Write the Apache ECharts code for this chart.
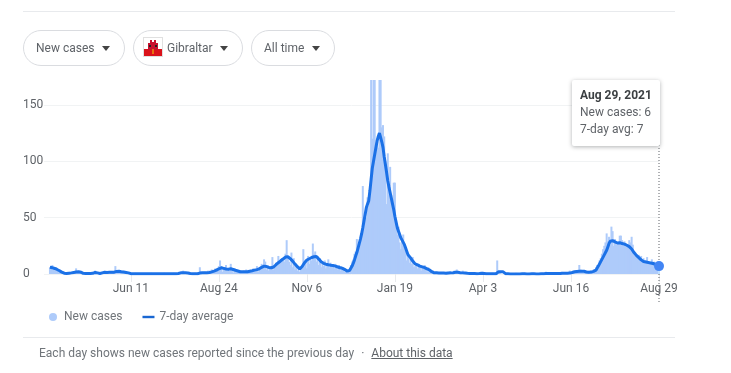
<!DOCTYPE html>
<html>
<head>
<meta charset="utf-8">
<title>Gibraltar new cases</title>
<script src="https://cdn.jsdelivr.net/npm/echarts@6/dist/echarts.min.js"></script>
<style>
  html, body { margin: 0; padding: 0; background: #fff; font-family: Roboto, sans-serif; }
  #page { position: relative; width: 731px; height: 373px; overflow: hidden; }
  #chart { position: absolute; left: 0; top: 0; width: 731px; height: 373px; }
  .rule { position: absolute; left: 23px; width: 652px; height: 1px; background: #e8eaed; }
  .chip { position: absolute; top: 30px; height: 34px; box-sizing: content-box; border: 1px solid #dadce0; border-radius: 18px;
    font-size: 12px; line-height: 34px; color: #5f6368; white-space: nowrap; background: #fff; }
  .chip span { position: absolute; top: 0; }
  .chip i { position: absolute; top: 15px; width: 0; height: 0; border-left: 4px solid transparent; border-right: 4px solid transparent; border-top: 5px solid #444; }
  .chip svg { position: absolute; left: 9px; top: 6px; }
  #note { position: absolute; left: 39px; top: 346px; font-size: 12px; line-height: 15px; color: #70757a; white-space: nowrap; }
  #note a { color: #5f6368; text-decoration: underline; margin-left: 7px; }
  #note b { font-weight: 400; margin-left: 7px; }
</style>
</head>
<body>
<div id="page">
  <div id="chart"></div>
  <div class="rule" style="top:11px"></div>
  <div class="chip" style="left:23px;width:100px"><span style="left:12px">New cases</span><i style="left:78px"></i></div>
  <div class="chip" style="left:133px;width:108px">
    <svg width="20" height="20" viewBox="0 0 20 20">
      <rect x="0.5" y="0.5" width="19" height="19" fill="#fff" stroke="#e0e0e0"/>
      <rect x="1" y="12" width="18" height="7" fill="#da121a"/>
      <path d="M5 13V6h2V3h2v2h2V3h2v3h2v7z" fill="#c8102e"/>
      <rect x="6" y="8" width="2" height="2" fill="#222"/><rect x="12" y="8" width="2" height="2" fill="#222"/>
      <rect x="9.5" y="12" width="1" height="5" fill="#f8d000"/>
    </svg>
    <span style="left:33px">Gibraltar</span><i style="left:86px"></i>
  </div>
  <div class="chip" style="left:251px;width:82px"><span style="left:12px">All time</span><i style="left:60px"></i></div>
  <div class="rule" style="top:337px"></div>
  <div id="note">Each day shows new cases reported since the previous day<b>·</b><a>About this data</a></div>
</div>
<script>
const startDay = '2020-03-30';
const tickDates = ['2020-06-11', '2020-08-24', '2020-11-06', '2021-01-19', '2021-04-03', '2021-06-16', '2021-08-29'];
const tickLabels = ['Jun 11', 'Aug 24', 'Nov 6', 'Jan 19', 'Apr 3', 'Jun 16', 'Aug 29'];
const yTicks = [0, 50, 100, 150];
const padDays = [null, null, null, null, null];

const newCases = [
  6, 7, 8, 5, 4, 6, 3, 2, 4, 1,
  1, 0, 1, 0, 0, 0, 1, 2, 1, 0,
  2, 1, 5, 2, 1, 3, 2, 1, 0, 0,
  0, 1, 0, 1, 0, 1, 0, 1, 3, 2,
  1, 0, 0, 1, 2, 1, 1, 2, 1, 2,
  1, 2, 2, 1, 2, 7, 2, 1, 2, 2,
  1, 3, 2, 1, 2, 1, 1, 0, 0, 0,
  0, 0, 1, 0, 0, 0, 0, 0, 0, 0,
  0, 0, 0, 0, 0, 1, 0, 0, 0, 0,
  0, 0, 0, 0, 0, 0, 1, 0, 0, 0,
  0, 0, 0, 0, 1, 0, 0, 0, 1, 2,
  1, 0, 3, 1, 1, 0, 1, 1, 0, 0,
  0, 0, 1, 0, 0, 0, 6, 1, 1, 0,
  2, 1, 0, 3, 1, 2, 4, 1, 3, 5,
  4, 3, 7, 12, 7, 2, 6, 4, 8, 3,
  5, 3, 9, 4, 1, 5, 3, 2, 2, 1,
  3, 1, 2, 3, 1, 4, 2, 1, 3, 2,
  2, 5, 3, 4, 7, 2, 6, 4, 9, 5,
  13, 11, 4, 8, 3, 7, 5, 15, 4, 8,
  10, 7, 16, 9, 13, 14, 12, 11, 18, 30,
  15, 11, 8, 19, 6, 14, 4, 9, 3, 6,
  2, 4, 6, 22, 8, 12, 5, 16, 9, 13,
  12, 27, 18, 20, 11, 16, 8, 14, 6, 9,
  7, 12, 5, 9, 13, 6, 10, 8, 7, 5,
  9, 6, 4, 8, 3, 7, 5, 4, 2, 3,
  1, 2, 4, 8, 11, 13, 18, 20, 31, 24,
  28, 31, 36, 78, 42, 55, 50, 68, 60, 72,
  190, 120, 185, 175, 108, 120, 112, 185, 190, 130,
  132, 122, 100, 62, 107, 80, 95, 70, 60, 81,
  81, 45, 35, 42, 28, 22, 31, 35, 25, 20,
  12, 18, 10, 14, 9, 15, 6, 7, 8, 5,
  9, 6, 3, 7, 5, 8, 4, 2, 6, 3,
  2, 1, 3, 1, 0, 2, 1, 1, 0, 1,
  1, 0, 1, 0, 2, 1, 2, 0, 1, 2,
  3, 1, 4, 2, 1, 0, 2, 3, 0, 1,
  0, 1, 0, 1, 1, 0, 0, 1, 0, 0,
  0, 1, 1, 0, 2, 0, 0, 1, 0, 0,
  0, 0, 1, 0, 0, 0, 12, 0, 1, 0,
  0, 0, 0, 1, 0, 0, 0, 0, 0, 0,
  0, 0, 1, 0, 0, 0, 0, 0, 0, 1,
  0, 0, 0, 1, 0, 0, 1, 0, 0, 0,
  0, 0, 1, 0, 1, 0, 0, 2, 0, 0,
  1, 0, 1, 0, 1, 0, 1, 0, 1, 0,
  2, 0, 1, 0, 1, 0, 1, 3, 1, 2,
  1, 2, 3, 2, 1, 8, 4, 2, 3, 2,
  2, 1, 3, 2, 1, 3, 2, 4, 3, 6,
  8, 7, 12, 14, 18, 22, 25, 28, 36, 29,
  33, 26, 42, 38, 25, 31, 26, 28, 27, 34,
  34, 30, 26, 29, 27, 25, 24, 30, 28, 33,
  26, 20, 19, 17, 14, 17, 13, 16, 11, 14,
  12, 10, 15, 10, 9, 9, 13, 9, 11, 8,
  9, 4, 6
];

const sevenDayAvg = [
  6, 6, 5.6, 5.4, 4.9, 4.4, 4, 3.4, 2.9, 2.3,
  1.7, 1.1, 0.7, 0.5, 0.4, 0.5, 0.7, 0.9, 1, 1.3,
  1.4, 1.6, 1.7, 1.9, 2, 2, 1.6, 1, 0.6, 0.5,
  0.4, 0.4, 0.5, 0.5, 0.5, 0.5, 0.6, 0.9, 1.4, 1.4,
  1, 0.6, 0.5, 0.7, 1, 1.3, 1.5, 1.4, 1.4, 1.5,
  1.5, 1.4, 1.6, 1.5, 1.6, 1.9, 2.3, 2.6, 2.4, 2.3,
  2, 1.9, 1.7, 1.6, 1.4, 1.3, 1, 0.6, 0.3, 0.2,
  0.2, 0.2, 0.3, 0.2, 0.2, 0.2, 0.2, 0.2, 0.2, 0.2,
  0.2, 0.2, 0.2, 0.2, 0.2, 0.3, 0.2, 0.2, 0.2, 0.2,
  0.2, 0.2, 0.2, 0.2, 0.2, 0.2, 0.3, 0.2, 0.2, 0.2,
  0.2, 0.2, 0.2, 0.2, 0.2, 0.2, 0.2, 0.3, 0.5, 0.7,
  1, 1, 1.1, 1.1, 1, 1, 0.9, 0.7, 0.5, 0.4,
  0.3, 0.2, 0.2, 0.2, 0.2, 0.1, 0.8, 1, 1.1, 1.1,
  1.2, 1.2, 1.2, 1.3, 1.3, 1.6, 1.9, 2.2, 2.6, 3,
  3.4, 3.9, 4.6, 5.1, 5.5, 5.4, 5, 4.7, 4.5, 4.5,
  4.3, 4.4, 4.6, 4.5, 4, 3.7, 3.3, 3, 2.7, 2.3,
  2, 2, 1.9, 2, 2, 2, 2, 2.2, 2.5, 2.7,
  2.9, 3, 3.4, 3.7, 3.9, 4, 4.6, 5.2, 5.9, 6.5,
  7, 7, 6.6, 6.2, 5.8, 5.5, 5.5, 5.5, 6.2, 7.1,
  8.2, 9.3, 10, 10.9, 11.7, 12.5, 13.3, 14.2, 15, 15.5,
  15.3, 14.7, 13.6, 12.5, 11.4, 10, 8.8, 7.6, 6.5, 5.5,
  4.5, 5.2, 6.6, 8.3, 10, 11.2, 12.4, 13, 13.5, 14,
  14.6, 15, 15.3, 15.5, 15.5, 14.7, 13.2, 11.5, 10.8, 10.1,
  9.5, 9, 8.7, 8.4, 8.2, 8, 7.8, 7.7, 7.5, 7.3,
  7, 6.6, 6.2, 5.9, 5.5, 5.2, 5, 4.5, 3.9, 3.3,
  2.5, 2.4, 3.3, 5, 7, 9.5, 12.5, 16, 19, 23,
  27, 31, 35.5, 41, 47, 53, 59, 62, 65, 74,
  84, 94, 100, 106, 112, 118, 122, 125, 121, 117,
  112, 104, 97, 90, 82.5, 77, 72, 67, 62, 57,
  51, 46, 41, 38, 35, 32, 30, 29, 26, 23,
  20, 17, 15.5, 14.5, 13, 11.5, 10, 9, 8.5, 8,
  7.5, 7, 6.7, 6.3, 6, 5.6, 5, 4.5, 4.2, 3.7,
  3, 2, 1.2, 1.1, 1, 1, 0.9, 0.9, 0.8, 0.8,
  0.8, 0.8, 0.7, 0.7, 0.8, 0.9, 1, 1, 1.1, 1.2,
  1.4, 1.5, 1.6, 1.5, 1.4, 1.2, 1, 1, 0.9, 0.8,
  0.7, 0.6, 0.6, 0.5, 0.5, 0.4, 0.4, 0.4, 0.3, 0.3,
  0.3, 0.4, 0.5, 0.6, 0.6, 0.5, 0.4, 0.3, 0.3, 0.2,
  0.2, 0.2, 0.2, 0.2, 0.2, 0.2, 1.8, 1.9, 1.9, 1.9,
  1.9, 1.9, 1.9, 0.3, 0.2, 0.2, 0.1, 0.1, 0.1, 0.1,
  0.1, 0.1, 0.1, 0.1, 0.1, 0.1, 0.2, 0.2, 0.2, 0.2,
  0.2, 0.1, 0.1, 0.1, 0.1, 0.2, 0.2, 0.2, 0.2, 0.1,
  0.1, 0.1, 0.2, 0.2, 0.3, 0.3, 0.3, 0.4, 0.4, 0.4,
  0.4, 0.5, 0.5, 0.5, 0.5, 0.4, 0.4, 0.4, 0.5, 0.5,
  0.6, 0.6, 0.7, 0.7, 0.7, 0.7, 0.8, 0.8, 1, 1.3,
  1.8, 2, 2.1, 2.3, 2.5, 2.5, 2.4, 2.5, 2.6, 2.4,
  2.1, 1.8, 1.6, 1.5, 1.5, 1.7, 2, 2.3, 2.7, 3.4,
  5, 7, 8.7, 11, 13, 15, 17, 19, 21, 24,
  27, 29, 30, 29.5, 29, 28.5, 28, 27.5, 27.6, 27.8,
  27.2, 27, 26.8, 26.5, 26, 25.5, 25, 24.3, 23.5, 22.2,
  20.5, 19, 17.5, 16.5, 15.5, 14.5, 13.5, 12.5, 11.5, 11,
  10.8, 10.6, 10.4, 10.2, 10, 9.8, 9.6, 9.3, 8.9, 8.5,
  8, 7.5, 7
];

const casesData = padDays.concat(newCases);
const avgData = padDays.concat(sevenDayAvg);

// one category per day, ISO so the two years don't collide on the axis
const days = casesData.map((_, i) => {
  const d = new Date(startDay + 'T12:00:00Z');
  d.setUTCDate(d.getUTCDate() + i);
  return d.toISOString().slice(0, 10);
});
const lastIndex = days.length - 1;
const isTick = (index, value) => tickDates.includes(value);

const chart = echarts.init(document.getElementById('chart'));

chart.setOption({
  animation: false,
  textStyle: { fontFamily: 'Roboto, sans-serif' },
  grid: { left: 44, right: 72, top: 80, bottom: 99 },
  legend: {
    left: 49,
    top: 311,
    padding: 0,
    itemWidth: 12,
    itemHeight: 8,
    itemGap: 20,
    selectedMode: false,
    textStyle: { color: '#70757a', fontSize: 12, fontFamily: 'Roboto, sans-serif' },
    data: [
      { name: 'New cases', icon: 'circle' },
      { name: '7-day average', icon: 'path://M0 0h12v2.4H0z' },
    ],
  },
  tooltip: {
    trigger: 'axis',
    axisPointer: { type: 'none' },
    alwaysShowContent: true,
    transitionDuration: 0,
    position: [572, 80],
    padding: [6, 8, 8, 8],
    backgroundColor: '#fff',
    borderWidth: 0,
    extraCssText: 'box-shadow:0 1px 4px rgba(60,64,67,.4);border-radius:2px;width:72px;',
    formatter: () =>
      '<div style="font:700 12px/18px Roboto,sans-serif;color:#3c4043">Aug 29, 2021</div>' +
      '<div style="font:12px/17px Roboto,sans-serif;color:#5f6368">New cases: ' + newCases[newCases.length - 1] + '</div>' +
      '<div style="font:12px/17px Roboto,sans-serif;color:#5f6368">7-day avg: ' + sevenDayAvg[sevenDayAvg.length - 1] + '</div>',
  },
  xAxis: {
    type: 'category',
    data: days,
    boundaryGap: false,
    axisLine: { show: false },
    axisTick: { length: 8, interval: isTick, lineStyle: { color: '#e8eaed' } },
    axisLabel: {
      interval: isTick,
      margin: 9,
      hideOverlap: false,
      color: '#5f6368',
      fontSize: 12,
      formatter: (value) => tickLabels[tickDates.indexOf(value)],
    },
  },
  yAxis: {
    type: 'value',
    min: 0,
    max: 172,
    interval: 50,
    axisLabel: {
      align: 'left',
      margin: 21,
      color: '#5f6368',
      fontSize: 12,
      formatter: (value) => (yTicks.includes(value) ? String(value) : ''),
    },
    splitLine: { showMaxLine: false, lineStyle: { color: '#f1f3f4' } },
  },
  series: [
    {
      name: 'New cases',
      type: 'bar',
      data: casesData,
      barWidth: 2,
      itemStyle: { color: '#aecbfa' },
    },
    {
      name: '7-day average',
      type: 'line',
      data: avgData,
      symbol: 'none',
      lineStyle: { color: '#1967d2', width: 3 },
      itemStyle: { color: '#1967d2' },
      markPoint: {
        silent: true,
        symbol: 'circle',
        symbolSize: 10,
        label: { show: false },
        itemStyle: { color: '#4285f4' },
        data: [{ coord: [lastIndex, avgData[lastIndex]] }],
      },
    },
  ],
});

// dotted hover line under the tooltip, it runs past the bottom of the grid
const hoverX = chart.convertToPixel({ xAxisIndex: 0 }, lastIndex);
chart.setOption({
  graphic: [{
    type: 'line',
    z: 1,
    shape: { x1: hoverX, y1: 142, x2: hoverX, y2: 303 },
    style: { stroke: '#5f6368', lineWidth: 1, lineDash: [1, 2] },
  }],
});

chart.dispatchAction({ type: 'showTip', seriesIndex: 1, dataIndex: lastIndex });
</script>
</body>
</html>
